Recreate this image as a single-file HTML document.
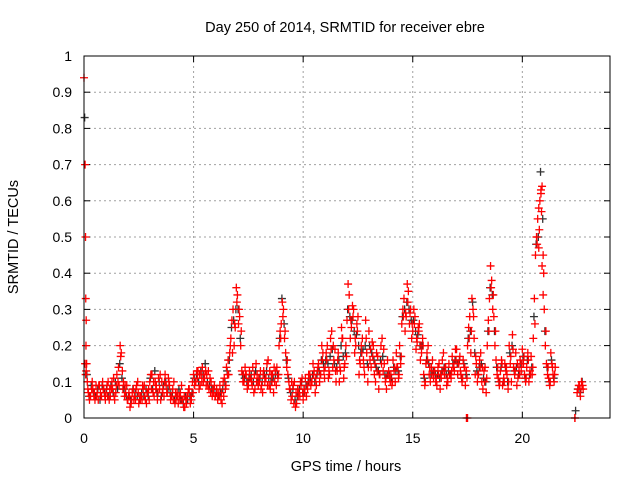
<!DOCTYPE html>
<html><head><meta charset="utf-8"><style>
body{margin:0;background:#fff}
svg{display:block;font-family:"Liberation Sans",sans-serif}
</style></head><body>
<svg id="c" width="640" height="480">
<text x="345" y="32" text-anchor="middle" font-size="14.5">Day 250 of 2014, SRMTID for receiver ebre</text>
<text x="346" y="471" text-anchor="middle" font-size="14.5">GPS time / hours</text>
<text transform="translate(18,237) rotate(-90)" text-anchor="middle" font-size="14.5">SRMTID / TECUs</text>
<g id="grid"></g>
<g id="axes"></g>
<g id="black"></g>
<g id="red"></g>
<rect x="84" y="56" width="526" height="362" fill="none" stroke="#000" stroke-width="1"/>
</svg>
<script>
const xTicks=[0,5,10,15,20];
const yTicks=[0,0.1,0.2,0.3,0.4,0.5,0.6,0.7,0.8,0.9,1];
const yTickLabels=["0","0.1","0.2","0.3","0.4","0.5","0.6","0.7","0.8","0.9","1"];
const step=0.1;
const red1=[0.94,0.13,0.07,0.06,0.08,0.05,0.07,0.09,0.06,0.08,
0.07,0.1,0.06,0.08,0.05,0.12,0.09,0.18,0.1,0.07,
0.05,0.03,0.07,0.06,0.09,0.04,0.06,0.08,0.05,0.07,
0.1,0.12,0.06,0.09,0.11,0.05,0.08,0.12,0.07,0.09,
0.06,0.1,0.05,0.04,0.07,0.05,0.03,0.06,0.08,0.05,
0.12,0.1,0.13,0.09,0.14,0.11,0.12,0.08,0.1,0.07,
0.06,0.05,0.09,0.04,0.11,0.14,0.12,0.22,0.3,0.25,
0.34,0.28,0.13,0.1,0.12,0.09,0.11,0.14,0.08,0.12,
0.1,0.09,0.13,0.11,0.16,0.08,0.12,0.1,0.14,0.2,
0.26,0.3,0.18,0.12,0.08,0.06,0.1,0.04,0.07,0.09,
0.05,0.11,0.08,0.12,0.1,0.13,0.09,0.15,0.12,0.18,
0.14,0.2,0.12,0.24,0.16,0.1,0.18,0.13,0.22,0.15,
0.27,0.34,0.25,0.3,0.2,0.28,0.15,0.22,0.12,0.18,
0.24,0.14,0.2,0.1,0.17,0.12,0.22,0.15,0.08,0.13,
0.12,0.16,0.1,0.14,0.2,0.26,0.33,0.28,0.35,0.3,
0.24,0.28,0.21,0.26,0.18,0.12,0.15,0.2,0.1,0.16,
0.13,0.09,0.15,0.11,0.18,0.14,0.1,0.12,0.17,0.13,
0.19,0.15,0.12,0.16,0.09,0.2,0.28,0.33,0.22,0.15,
0.12,0.18,0.08,0.14,0.2,0.33,0.38,0.28,0.16,0.11,
0.13,0.09,0.15,0.12,0.2,0.1,0.14,0.18,0.11,0.16,
0.19,0.12,0.14,0.1,0.17,0.22,0.45,0.55,0.6,0.64,
0.3,0.15,0.11,0.18,0.12,0.14,null,null,null,null,
null,null,null,null,0,0.07,0.09,0.1];
const red2=[0.15,0.1,0.05,0.08,0.06,0.09,0.05,0.07,0.1,0.06,
0.09,0.05,0.08,0.11,0.07,0.1,0.2,0.13,0.06,0.09,
0.07,0.04,0.08,0.05,0.1,0.06,0.05,0.09,0.04,0.08,
0.12,0.07,0.1,0.05,0.08,0.1,0.06,0.09,0.11,0.05,
0.08,0.04,0.07,0.06,0.09,0.03,0.05,0.07,0.04,0.1,
0.09,0.13,0.08,0.12,0.1,0.13,0.09,0.11,0.06,0.09,
0.08,0.07,0.05,0.1,0.08,0.12,0.18,0.27,0.2,0.36,
0.26,0.2,0.1,0.14,0.08,0.13,0.1,0.07,0.15,0.09,
0.13,0.07,0.1,0.15,0.09,0.12,0.07,0.13,0.11,0.24,
0.32,0.22,0.14,0.1,0.05,0.09,0.03,0.08,0.06,0.11,
0.08,0.06,0.12,0.09,0.15,0.07,0.13,0.1,0.2,0.13,
0.18,0.11,0.22,0.14,0.19,0.13,0.1,0.25,0.11,0.2,
0.37,0.22,0.31,0.18,0.26,0.12,0.2,0.16,0.27,0.1,
0.16,0.21,0.12,0.18,0.08,0.2,0.13,0.1,0.16,0.11,
0.09,0.13,0.18,0.11,0.15,0.3,0.24,0.37,0.26,0.22,
0.3,0.19,0.25,0.16,0.22,0.09,0.18,0.12,0.14,0.11,
0.1,0.14,0.08,0.16,0.12,0.09,0.15,0.11,0.14,0.19,
0.12,0.17,0.1,0.14,0.13,0.25,0.18,0.3,0.12,0.1,
0.16,0.1,0.13,0.07,0.27,0.42,0.3,0.2,0.12,0.09,
0.16,0.11,0.13,0.08,0.15,0.23,0.12,0.09,0.14,0.13,
0.15,0.1,0.18,0.13,0.12,0.33,0.5,0.47,0.62,0.45,
0.2,0.12,0.09,0.15,0.1,null,null,null,null,null,
null,null,null,null,null,0.08,0.06,0.09];
const red3=[0.12,0.08,0.06,0.1,0.07,0.06,0.09,0.06,0.08,0.05,
0.06,0.08,0.1,0.06,0.09,0.14,0.17,0.08,0.09,0.05,
0.06,0.05,0.05,0.08,0.07,0.05,0.09,0.06,0.07,0.05,
0.08,0.1,0.08,0.07,0.12,0.07,0.1,0.07,0.1,0.06,
0.05,0.07,0.06,0.05,0.05,0.06,0.04,0.08,0.06,0.07,
0.1,0.11,0.12,0.1,0.12,0.09,0.13,0.07,0.08,0.06,
0.07,0.06,0.07,0.06,0.09,0.16,0.2,0.18,0.26,0.32,
0.3,0.24,0.12,0.12,0.1,0.11,0.09,0.12,0.1,0.11,
0.08,0.12,0.11,0.09,0.13,0.1,0.14,0.09,0.12,0.22,
0.28,0.24,0.16,0.08,0.1,0.04,0.07,0.06,0.1,0.07,
0.07,0.09,0.1,0.1,0.12,0.11,0.14,0.12,0.16,0.11,
0.16,0.13,0.19,0.2,0.13,0.16,0.14,0.22,0.14,0.17,
0.3,0.27,0.28,0.22,0.24,0.16,0.18,0.14,0.22,0.14,
0.19,0.17,0.15,0.13,0.12,0.15,0.19,0.11,0.12,0.1,
0.1,0.14,0.14,0.12,0.17,0.28,0.29,0.32,0.29,0.26,
0.26,0.22,0.24,0.2,0.2,0.1,0.16,0.14,0.12,0.13,
0.11,0.12,0.12,0.13,0.14,0.11,0.12,0.13,0.15,0.16,
0.15,0.13,0.11,0.14,0.11,0.22,0.24,0.28,0.17,0.12,
0.14,0.14,0.1,0.11,0.24,0.36,0.34,0.24,0.14,0.1,
0.15,0.1,0.14,0.1,0.17,0.19,0.13,0.15,0.12,0.15,
0.17,0.11,0.16,0.12,0.14,0.26,0.48,0.52,0.57,0.4,
0.24,0.14,0.1,0.14,0.12,null,null,null,null,null,
null,null,null,null,null,0.09,0.08,0.08];
const black1=[0.83,0.12,0.06,0.09,0.07,0.06,0.08,0.05,0.09,0.07,
0.08,0.06,0.09,0.07,0.1,0.08,0.15,0.11,0.08,0.06,
0.06,0.05,0.08,0.07,0.06,0.05,0.07,0.06,0.08,0.06,
0.11,0.08,0.13,0.07,0.1,0.06,0.09,0.1,0.08,0.07,
0.07,0.05,0.06,0.08,0.05,0.04,0.06,0.05,0.06,0.07,
0.11,0.12,0.1,0.13,0.12,0.15,0.1,0.09,0.08,0.08,
0.07,0.06,0.07,0.08,0.1,0.13,0.16,0.25,0.27,0.3,
0.3,0.22,0.12,0.11,0.1,0.11,0.12,0.1,0.13,0.1,
0.11,0.1,0.12,0.13,0.11,0.1,0.11,0.12,0.12,0.22,
0.33,0.26,0.16,0.11,0.07,0.08,0.05,0.06,0.08,0.1,
0.07,0.09,0.1,0.11,0.12,0.1,0.12,0.13,0.16,0.15,
0.16,0.15,0.17,0.19,0.15,0.14,0.16,0.2,0.17,0.18,
0.3,0.28,0.27,0.24,0.23,0.2,0.18,0.19,0.2,0.15,
0.2,0.18,0.16,0.14,0.13,0.16,0.17,0.12,0.12,0.12,
0.11,0.14,0.13,0.13,0.17,0.28,0.3,0.32,0.3,0.27,
0.27,0.24,0.23,0.2,0.2,0.11,0.16,0.15,0.12,0.13,
0.12,0.12,0.11,0.13,0.14,0.12,0.13,0.12,0.15,0.16,
0.15,0.16,0.11,0.15,0.12,0.22,0.24,0.32,0.18,0.13,
0.14,0.15,0.11,0.1,0.24,0.36,0.34,0.24,0.14,0.1,
0.14,0.1,0.14,0.1,0.18,0.2,0.13,0.14,0.12,0.15,
0.17,0.11,0.16,0.12,0.14,0.28,0.48,0.5,0.68,0.55,
0.24,0.14,0.1,0.16,0.11,null,null,null,null,null,
null,null,null,null,0.02,0.08,0.07,0.1];
const extraT=[0.05,0.07,0.08,0.1,0.09,0.12,17.45,17.5,22.4,20.65,20.75,20.85,20.9,20.95];
const extraV=[0.7,0.5,0.33,0.27,0.2,0.15,0,0,0,0.5,0.58,0.63,0.42,0.34];

const X0=84,X1=610,Y0=418,Y1=56,XMAX=24;
const sx=t=>X0+(X1-X0)*t/XMAX;
const sy=v=>Y0-(Y0-Y1)*v;
const NS='http://www.w3.org/2000/svg';
const mk=(tag,attrs,parent)=>{const e=document.createElementNS(NS,tag);for(const k in attrs)e.setAttribute(k,attrs[k]);parent.appendChild(e);return e;};
const grid=document.getElementById('grid'),axes=document.getElementById('axes');
yTicks.forEach((v,i)=>{
  const y=sy(v);
  if(i>0&&i<yTicks.length-1){const g=mk('line',{x1:X0,x2:X1,y1:y,y2:y,stroke:'#a0a0a0','stroke-dasharray':'2,3'},grid);
  
  }
  const t1=mk('line',{x1:X0,x2:X0+6,y1:y,y2:y,stroke:'#000'},axes);
  
  
  mk('line',{x1:X1-6,x2:X1,y1:y,y2:y,stroke:'#000'},axes);
  const tx=mk('text',{x:72,y:y+5,'text-anchor':'end','font-size':14},axes);
  tx.textContent=yTickLabels[i];
  
  
});
xTicks.forEach(t=>{
  const x=sx(t);
  if(t>0){const g=mk('line',{x1:x,x2:x,y1:Y0,y2:Y1,stroke:'#a0a0a0','stroke-dasharray':'2,3'},grid);
  
  }
  const t1=mk('line',{x1:x,x2:x,y1:Y0,y2:Y0-6,stroke:'#000'},axes);
  
  
  mk('line',{x1:x,x2:x,y1:Y1,y2:Y1+6,stroke:'#000'},axes);
  const tx=mk('text',{x:x,y:443,'text-anchor':'middle','font-size':14},axes);
  tx.textContent=String(t);
  
  
});
function plus(g,t,v,col){
  if(v===null||v===undefined)return;
  const x=sx(t),y=sy(v);
  const p=mk('path',{d:`M${x-4},${y}h8M${x},${y-4}v8`,stroke:col,'stroke-width':1.3,fill:'none'},g);
  
  
}
const bg=document.getElementById('black'),rg=document.getElementById('red');
black1.forEach((v,i)=>plus(bg,i*step+0.03,v,'#333'));
red1.forEach((v,i)=>plus(rg,i*step,v,'#f00'));
red2.forEach((v,i)=>plus(rg,i*step+0.05,v,'#f00'));
red3.forEach((v,i)=>plus(rg,i*step+0.075,v,'#f00'));
extraT.forEach((t,i)=>plus(rg,t,extraV[i],'#f00'));
</script>
</body></html>
